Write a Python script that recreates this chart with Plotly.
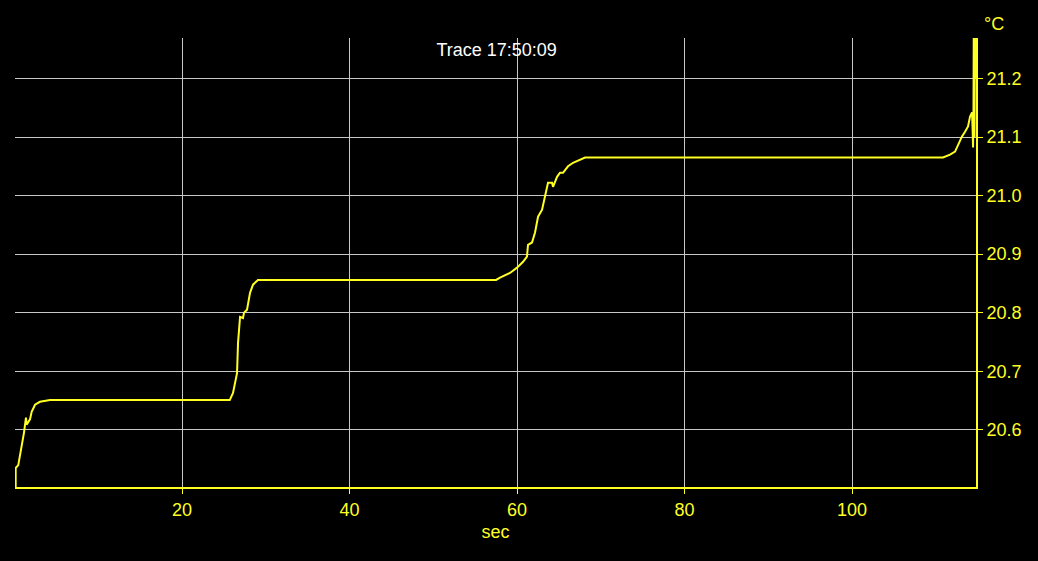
import plotly.graph_objects as go

# time in seconds
x_sec = [0.14, 0.14, 0.45, 0.86, 1.13, 1.37, 1.45, 1.85, 2.05, 2.45, 3.04, 4.24, 25.7,
         26.09, 26.57, 26.69, 26.93, 27.28, 27.40, 27.76, 28.12, 28.48, 29.07, 57.5,
         57.97, 59.16, 60.0, 60.72, 61.19, 61.31, 61.79, 62.15, 62.51, 62.99, 63.34, 63.70,
         64.18, 64.30, 64.78, 65.13, 65.49, 66.09, 66.69, 67.52, 68.12, 110.87,
         111.70, 112.30, 112.66, 113.13, 113.49, 113.85, 114.09, 114.33, 114.40, 114.45,
         114.50, 114.55, 114.62, 114.68, 114.75]
# temperature in °C
temp_c = [20.50, 20.535, 20.540, 20.571, 20.595, 20.621, 20.609, 20.618, 20.631, 20.643, 20.648, 20.651, 20.651,
          20.663, 20.697, 20.749, 20.793, 20.791, 20.800, 20.805, 20.834, 20.848, 20.856, 20.856,
          20.860, 20.868, 20.877, 20.887, 20.896, 20.916, 20.920, 20.937, 20.964, 20.976, 21.002, 21.022,
          21.022, 21.015, 21.032, 21.039, 21.039, 21.050, 21.056, 21.062, 21.065, 21.065,
          21.070, 21.075, 21.087, 21.101, 21.109, 21.118, 21.135, 21.142, 21.110, 21.082,
          21.15, 21.35, 21.10, 21.35, 21.20]

x_ticks = [20, 40, 60, 80, 100]
y_ticks = [20.6, 20.7, 20.8, 20.9, 21.0, 21.1, 21.2]
y_tick_text = ["20.6", "20.7", "20.8", "20.9", "21.0", "21.1", "21.2"]

YEL = "#ffff22"
GRID = "#c8c8c8"
FONT = "Liberation Sans, Arial, sans-serif"

fig = go.Figure()
fig.add_trace(go.Scatter(x=x_sec, y=temp_c, mode="lines",
                         line=dict(color=YEL, width=2), showlegend=False,
                         hoverinfo="skip"))

fig.update_layout(
    width=1038, height=561,
    paper_bgcolor="black", plot_bgcolor="black",
    margin=dict(l=15, r=62, t=38, b=74),
    font=dict(family=FONT, size=18, color=YEL),
    title=dict(text="Trace 17:50:09", x=0.4785, xanchor="center", y=1 - 50 / 561,
               yanchor="middle", font=dict(color="white", size=18, family=FONT)),
    xaxis=dict(range=[0.06, 114.8], tickvals=x_ticks, showgrid=True, gridcolor=GRID, gridwidth=1,
               showline=True, linecolor=YEL, linewidth=2, ticks="outside", ticklen=5,
               tickcolor=YEL, tickwidth=1, zeroline=False,
               title=dict(text="sec", standoff=7, font=dict(size=18, color=YEL))),
    yaxis=dict(range=[20.5026, 21.269], side="right", tickvals=y_ticks, ticktext=y_tick_text,
               showgrid=True, gridcolor=GRID, gridwidth=1, showline=True, linecolor=YEL,
               linewidth=2, ticks="outside", ticklen=5, tickcolor=YEL, tickwidth=1,
               zeroline=False),
)
fig.add_annotation(text="°C", xref="paper", yref="paper", x=1.0, y=1.0,
                   xanchor="left", yanchor="bottom", xshift=6, yshift=2,
                   showarrow=False, font=dict(size=18, color=YEL, family=FONT))

fig.write_html("out.html", config={"displayModeBar": False},
               post_script="document.body.style.margin='0';")
